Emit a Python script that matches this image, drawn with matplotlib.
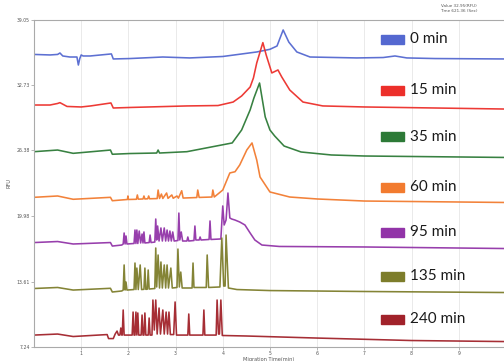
import matplotlib.pyplot as plt
from matplotlib.patches import Rectangle

# electropherogram traces, (migration time min, RFU)
trace_0 = [(0, 35.70), (0.34, 35.65), (0.50, 35.70), (0.55, 35.84), (0.61, 35.55), (0.76, 35.45),
           (0.91, 35.45), (0.94, 34.67), (0.97, 35.30), (1.00, 35.65), (1.04, 35.55), (1.19, 35.55),
           (1.64, 35.75), (1.68, 35.26), (2.03, 35.30), (2.73, 35.45), (3.30, 35.36), (4.00, 35.50),
           (4.72, 35.94), (5.00, 36.20), (5.15, 36.52), (5.28, 38.08), (5.40, 36.90), (5.57, 35.94),
           (5.85, 35.45), (6.84, 35.36), (7.40, 35.40), (7.65, 35.55), (7.90, 35.36), (8.50, 35.30),
           (9.96, 35.26)]

trace_15 = [(0, 30.78), (0.34, 30.78), (0.50, 30.93), (0.55, 31.01), (0.70, 30.64), (1.00, 30.59),
            (1.20, 30.69), (1.63, 30.98), (1.68, 30.49), (2.03, 30.54), (3.24, 30.69), (3.90, 30.73),
            (4.22, 31.07), (4.40, 31.66), (4.58, 32.53), (4.65, 33.41), (4.72, 34.87), (4.85, 36.85),
            (4.92, 35.65), (5.04, 33.90), (5.17, 34.19), (5.25, 33.51), (5.42, 32.24), (5.70, 31.07),
            (6.12, 30.69), (7.00, 30.59), (8.50, 30.49), (9.96, 30.39)]

trace_35 = [(0, 26.24), (0.50, 26.40), (0.83, 26.08), (1.62, 26.40), (1.66, 25.99), (2.03, 26.06),
            (2.60, 26.11), (2.63, 26.40), (2.66, 26.11), (3.24, 26.24), (4.20, 27.09), (4.40, 28.35),
            (4.58, 30.30), (4.66, 31.46), (4.78, 32.92), (4.90, 29.62), (5.00, 28.35), (5.10, 27.77),
            (5.30, 26.79), (5.66, 26.21), (6.30, 25.92), (7.00, 25.82), (9.96, 25.68)]

trace_60 = [(0, 21.80), (0.50, 21.93), (0.83, 21.61), (1.62, 21.80), (1.66, 21.47), (1.98, 21.59),
            (1.99, 21.93), (2.00, 21.59), (2.17, 21.61), (2.19, 22.03), (2.21, 21.62), (2.31, 21.64),
            (2.33, 21.93), (2.35, 21.64), (2.41, 21.66), (2.43, 21.93), (2.45, 21.66), (2.61, 21.68),
            (2.63, 22.51), (2.66, 21.69), (2.70, 22.12), (2.73, 21.69), (2.81, 22.22), (2.84, 21.70),
            (2.92, 22.03), (2.95, 21.71), (3.03, 21.93), (3.06, 21.72), (3.13, 22.44), (3.16, 21.73),
            (3.45, 21.78), (3.47, 22.51), (3.50, 21.79), (3.77, 21.83), (3.79, 22.51), (3.82, 21.83),
            (4.00, 22.51), (4.15, 24.17), (4.26, 24.29), (4.36, 24.95), (4.51, 26.41), (4.62, 27.09),
            (4.72, 25.43), (4.79, 23.78), (5.00, 22.32), (5.42, 21.83), (6.00, 21.64), (7.00, 21.44),
            (9.96, 21.30)]

trace_95 = [(0, 17.40), (0.50, 17.50), (0.83, 17.26), (1.62, 17.40), (1.66, 17.06), (1.86, 17.16),
            (1.89, 17.26), (1.91, 18.33), (1.93, 17.26), (1.95, 18.04), (1.97, 17.26),
            (2.12, 17.31), (2.14, 18.62), (2.16, 17.31), (2.18, 18.62), (2.20, 17.31), (2.23, 18.52),
            (2.26, 17.36), (2.29, 18.23), (2.31, 17.36), (2.33, 18.43), (2.35, 17.36), (2.44, 17.40),
            (2.46, 18.13), (2.48, 17.40),
            (2.56, 17.45), (2.58, 19.69), (2.60, 17.65), (2.62, 19.01), (2.65, 17.55), (2.69, 18.82),
            (2.72, 17.55), (2.76, 18.82), (2.79, 17.55), (2.82, 18.62), (2.85, 17.55), (2.88, 18.52),
            (2.91, 17.55), (2.94, 18.43), (2.97, 17.55),
            (3.05, 17.60), (3.07, 20.27), (3.09, 17.65), (3.12, 18.43), (3.15, 17.55), (3.24, 17.55),
            (3.26, 17.94), (3.28, 17.55), (3.39, 17.60), (3.41, 19.01), (3.43, 17.65), (3.50, 17.65),
            (3.52, 17.94), (3.54, 17.65), (3.71, 17.70), (3.73, 19.50), (3.75, 17.70),
            (3.96, 17.75), (4.00, 20.96), (4.03, 19.11), (4.07, 19.59), (4.11, 22.22), (4.15, 19.79),
            (4.19, 19.69), (4.26, 19.59), (4.36, 19.40), (4.47, 19.11), (4.58, 18.33), (4.68, 17.65),
            (4.83, 17.16), (5.20, 17.02), (7.00, 16.97), (9.96, 16.82)]

trace_135 = [(0, 12.93), (0.50, 13.03), (0.83, 12.78), (1.62, 12.95), (1.66, 12.59), (1.86, 12.69),
             (1.89, 12.78), (1.91, 15.22), (1.93, 12.78), (1.95, 13.56), (1.97, 12.78),
             (2.12, 12.83), (2.14, 15.41), (2.16, 12.83), (2.18, 14.92), (2.21, 12.83), (2.25, 15.22),
             (2.28, 12.83), (2.33, 12.85), (2.35, 14.92), (2.37, 12.85), (2.40, 12.86), (2.42, 14.73),
             (2.44, 12.88),
             (2.56, 12.93), (2.58, 16.87), (2.60, 13.08), (2.63, 16.19), (2.66, 12.98), (2.69, 15.51),
             (2.72, 12.98), (2.76, 15.22), (2.79, 12.98), (2.82, 15.22), (2.85, 12.98), (2.90, 14.92),
             (2.93, 12.98),
             (3.03, 13.03), (3.05, 16.77), (3.08, 13.08), (3.11, 14.53), (3.14, 12.98), (3.35, 12.98),
             (3.37, 15.41), (3.39, 13.03), (3.65, 13.03), (3.67, 16.19), (3.70, 13.03),
             (3.94, 13.08), (3.98, 17.84), (4.02, 13.17), (4.05, 13.17), (4.07, 18.13), (4.12, 12.98),
             (4.30, 12.83), (5.00, 12.73), (7.00, 12.64), (9.96, 12.54)]

trace_240 = [(0, 8.40), (0.50, 8.50), (0.83, 8.26), (1.55, 8.45), (1.58, 8.06), (1.68, 8.06),
             (1.72, 8.50), (1.76, 8.79), (1.79, 8.40), (1.82, 8.40), (1.84, 9.09), (1.86, 8.40),
             (1.87, 8.40), (1.89, 10.84), (1.91, 8.40),
             (2.08, 8.40), (2.10, 10.64), (2.12, 8.40), (2.14, 8.40), (2.16, 10.64), (2.18, 8.40),
             (2.20, 10.55), (2.22, 8.40), (2.27, 8.40), (2.29, 10.35), (2.31, 8.40), (2.33, 8.40),
             (2.35, 10.55), (2.37, 8.40), (2.42, 8.40), (2.44, 10.06), (2.46, 8.40),
             (2.50, 8.40), (2.52, 11.81), (2.55, 8.89), (2.58, 11.81), (2.61, 8.50), (2.65, 11.03),
             (2.68, 8.50), (2.73, 10.84), (2.76, 8.50), (2.80, 10.64), (2.83, 8.50), (2.86, 10.64),
             (2.89, 8.45), (2.96, 8.45), (2.99, 11.62), (3.02, 8.40),
             (3.26, 8.40), (3.28, 10.45), (3.30, 8.40), (3.58, 8.40), (3.60, 10.84), (3.62, 8.40),
             (3.86, 8.40), (3.88, 11.81), (3.91, 8.50), (3.93, 8.50), (3.96, 11.81), (3.99, 8.36),
             (4.50, 8.31), (6.00, 8.11), (8.00, 7.87), (9.96, 7.77)]

traces = [trace_0, trace_15, trace_35, trace_60, trace_95, trace_135, trace_240]
labels = ['0 min', '15 min', '35 min', '60 min', '95 min', '135 min', '240 min']
colors = ['#5468d0', '#ec2f2a', '#2d7a37', '#f27b2f', '#9234a8', '#7d7d2b', '#a1222a']

yticks = [7.24, 13.61, 19.98, 26.38, 32.73, 39.05]
ytick_labels = ['7.24', '13.61', '19.98', '26.38', '32.73', '39.05']
xticks = [1, 2, 3, 4, 5, 6, 7, 8, 9]

W, H = 504, 361
fig = plt.figure(figsize=(W / 100, H / 100), dpi=100)
ax = fig.add_axes([34 / W, 14 / H, 470 / W, 327 / H])

for pts, c in zip(traces, colors):
    t, v = zip(*pts)
    ax.plot(t, v, color=c, lw=1.15, solid_joinstyle='round', alpha=0.95)

ax.set_xlim(0, 9.96)
ax.set_ylim(7.24, 39.05)
ax.set_xticks(xticks)
ax.set_yticks(yticks)
ax.set_yticklabels(ytick_labels)
ax.tick_params(labelsize=3.3, length=2, width=0.5, color='#999999', labelcolor='#555555', pad=1)
ax.grid(axis='x', color='#e6e6e6', lw=0.6)
for s in ['left', 'bottom', 'top']:
    ax.spines[s].set_color('#aaaaaa')
    ax.spines[s].set_linewidth(0.8)
ax.spines['right'].set_visible(False)

ax.set_xlabel('Migration Time(min)', fontsize=3.6, color='#555555')
ax.xaxis.set_label_coords(0.5, -0.031)
ax.set_ylabel('RFU', fontsize=3.6, color='#555555')
ax.yaxis.set_label_coords(-0.047, 0.5)

fig.text(459 / W, 1 - 6 / H, 'Value 32.95(RFU)', fontsize=3, ha='center', va='center', color='#555555')
fig.text(459 / W, 1 - 11 / H, 'Time 621.36 (Sec)', fontsize=3, ha='center', va='center', color='#555555')

# legend boxes on the right
legend_y = [39, 90, 137, 187, 232, 276, 319]
for lab, c, y in zip(labels, colors, legend_y):
    fig.patches.append(Rectangle((381 / W, 1 - (y + 4.5) / H), 23 / W, 9 / H,
                                 transform=fig.transFigure, color=c))
    fig.text(410 / W, 1 - y / H, lab, fontsize=11, family=['Lato', 'DejaVu Sans'],
             va='center', color='#1a1a1a')

fig.savefig('out.png', dpi=100)
